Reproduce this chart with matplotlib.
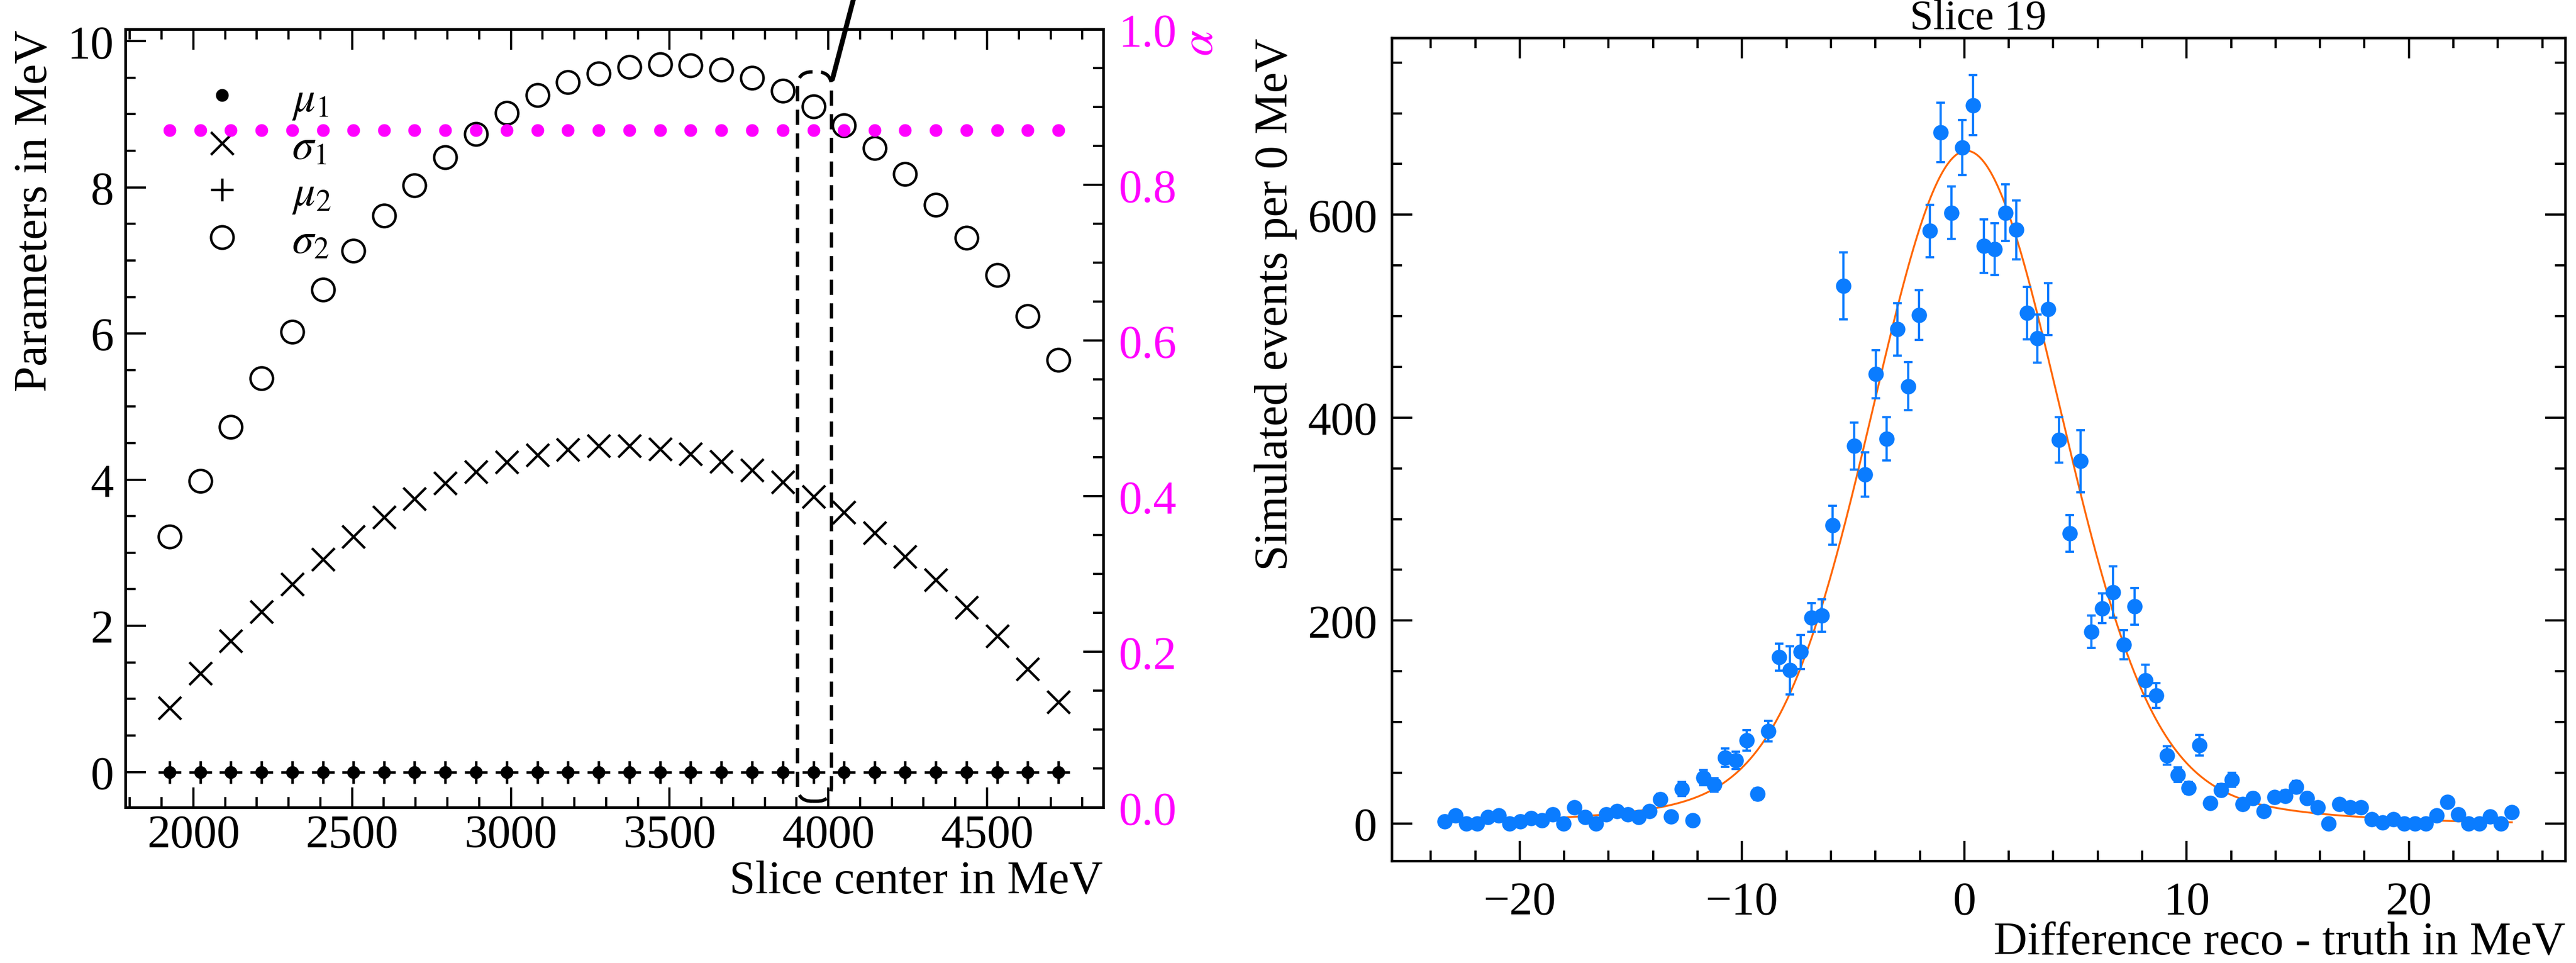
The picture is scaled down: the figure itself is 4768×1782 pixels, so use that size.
import numpy as np
import matplotlib.pyplot as plt
from matplotlib.patches import FancyBboxPatch, ConnectionPatch
from matplotlib.ticker import MultipleLocator

plt.rcParams['font.family'] = ['Liberation Serif', 'DejaVu Serif']
plt.rcParams['mathtext.fontset'] = 'stix'
plt.rcParams['font.size'] = 62
plt.rcParams['axes.linewidth'] = 3.3

# ---- left panel: fit parameters per slice ----
slice_center = [1925, 2022, 2118, 2215, 2311, 2408, 2504, 2601, 2697, 2794,
                2891, 2987, 3084, 3180, 3277, 3373, 3470, 3566, 3663, 3759,
                3856, 3953, 4049, 4146, 4242, 4339, 4435, 4532, 4628, 4725]
mu1 = [0.0] * 30
mu2 = [0.0] * 30
sigma1 = [0.88, 1.35, 1.79, 2.19, 2.57, 2.91, 3.22, 3.49, 3.74, 3.95,
          4.11, 4.24, 4.34, 4.41, 4.46, 4.46, 4.42, 4.35, 4.25, 4.13,
          3.97, 3.77, 3.55, 3.27, 2.95, 2.63, 2.25, 1.86, 1.41, 0.96]
sigma2 = [3.22, 3.98, 4.72, 5.39, 6.02, 6.60, 7.13, 7.61, 8.03, 8.41,
          8.73, 9.02, 9.26, 9.44, 9.56, 9.65, 9.68, 9.67, 9.61, 9.50,
          9.32, 9.11, 8.85, 8.54, 8.18, 7.76, 7.31, 6.80, 6.24, 5.64]
alpha = [0.87] * 30
selected = 21  # slice shown on the right

# ---- right panel: residual histogram of slice 19 ----
diff = np.linspace(-23.37, 24.63, 100)  # bin centers
counts = [2, 8, 0, 0, 6, 8, 0, 2, 5, 3,
          9, 0, 16, 6, 0, 9, 12, 9, 6, 12,
          24, 7, 34, 3, 45, 38, 65, 62, 82, 29,
          91, 164, 151, 169, 203, 205, 294, 530, 372, 344,
          443, 379, 487, 431, 501, 584, 681, 602, 666, 708,
          569, 566, 602, 585, 503, 478, 507, 378, 286, 357,
          189, 212, 228, 176, 214, 141, 126, 67, 48, 35,
          77, 20, 33, 43, 19, 25, 12, 26, 27, 36,
          25, 16, 0, 19, 16, 16, 4, 1, 4, 0,
          0, 0, 8, 21, 9, 0, 0, 7, 0, 11]
errors = [1.4, 2.8, 0, 0, 2.5, 2.8, 0, 1.4, 2.2, 1.7,
          3, 0, 4, 2.5, 0, 3, 3.5, 3, 2.5, 3.5,
          5, 2.6, 7, 1.7, 7.5, 6.5, 9, 8.5, 10, 5.5,
          10, 13.4, 23.8, 17, 14.2, 16, 19.3, 33, 23, 21.7,
          23.7, 21.4, 25.7, 23.5, 24.5, 26, 29.4, 25.8, 27.2, 29.7,
          26.5, 25.5, 28, 29, 26, 23.8, 25.5, 22.4, 18, 30.4,
          15.8, 14.6, 25.4, 14.3, 18.3, 15.2, 12.3, 9, 7, 6,
          10, 4.5, 6, 7, 4.5, 5, 3.5, 5, 5.2, 6,
          5, 4, 0, 4.4, 4, 4, 2, 1, 2, 0,
          0, 0, 2.8, 4.6, 3, 0, 0, 2.6, 0, 3.3]
fit_amp, fit_mu, fit_s1, fit_s2, fit_alpha = 663, 0.1, 4.15, 9.1, 0.87


def double_gauss(x):
    g1 = fit_alpha / fit_s1 * np.exp(-0.5 * ((x - fit_mu) / fit_s1) ** 2)
    g2 = (1 - fit_alpha) / fit_s2 * np.exp(-0.5 * ((x - fit_mu) / fit_s2) ** 2)
    return fit_amp * (g1 + g2) / (fit_alpha / fit_s1 + (1 - fit_alpha) / fit_s2)


W, H = 4768, 1783
fig = plt.figure(figsize=(W / 100, H / 100), dpi=100)
ax1 = fig.add_axes([231.5 / W, 1 - 1495 / H, 1810 / W, 1440 / H])
ax2 = fig.add_axes([2575.5 / W, 1 - 1594 / H, 2172.5 / W, 1523.5 / H])

# left
ax1.plot(slice_center, mu1, 'o', color='k', ms=16, label=r'$\mu_1$')
ax1.plot(slice_center, sigma1, 'x', color='k', ms=30, mew=3.3, label=r'$\sigma_1$')
ax1.plot(slice_center, mu2, '+', color='k', ms=30, mew=3.3, label=r'$\mu_2$')
ax1.plot(slice_center, sigma2, 'o', mfc='none', mec='k', ms=30, mew=3.3,
         label=r'$\sigma_2$')
ax1.set_xlabel('Slice center in MeV', loc='right', labelpad=4)
ax1.set_ylabel('Parameters in MeV', loc='top', labelpad=14)
ax1.xaxis.set_major_locator(MultipleLocator(500))
ax1.xaxis.set_minor_locator(MultipleLocator(100))
ax1.yaxis.set_major_locator(MultipleLocator(2))
ax1.yaxis.set_minor_locator(MultipleLocator(0.5))
ax1.legend(loc='upper left', bbox_to_anchor=(0.059, 0.957), frameon=False,
           fontsize=58, handlelength=1.0, handletextpad=1.1, labelspacing=0.16,
           borderaxespad=0)

ax1t = ax1.twinx()
ax1t.plot(slice_center, alpha, 'o', color='#ff00ff', ms=17, mew=0)
ax1t.set_ylim(0, 1)
ax1t.yaxis.set_major_locator(MultipleLocator(0.2))
ax1t.yaxis.set_minor_locator(MultipleLocator(0.05))
ax1t.set_ylabel(r'$\alpha$', loc='top', color='#ff00ff', labelpad=4)
ax1t.tick_params(axis='y', which='both', direction='in', labelcolor='#ff00ff',
                 width=3, pad=21)
ax1t.tick_params(axis='y', which='major', length=27)
ax1t.tick_params(axis='y', which='minor', length=14)

ax1.tick_params(which='both', direction='in', top=True, right=False, width=3)
ax1.tick_params(which='major', length=27)
ax1.tick_params(which='minor', length=14)
ax1.tick_params(axis='x', pad=9)
ax1.tick_params(axis='y', pad=15)

# highlight selected slice and link it to the right panel
xc = slice_center[selected]
box_lo, box_hi = -0.4, sigma2[selected] + 0.47
box = FancyBboxPatch((xc - 50, box_lo), 107, box_hi - box_lo,
                     boxstyle='round,pad=0,rounding_size=46',
                     mutation_aspect=0.0044, fill=False, ec='k', lw=4.5,
                     ls=(0, (4.5, 2.5)), transform=ax1.transData, zorder=5)
ax1.add_patch(box)
con = ConnectionPatch(xyA=(xc + 60, box_hi - 0.1), coordsA=ax1.transData,
                      xyB=(0.3362, 1.05), coordsB='figure fraction',
                      color='k', lw=6.5)
fig.add_artist(con)

# right
xfit = np.linspace(diff[0], diff[-1], 600)
ax2.plot(xfit, double_gauss(xfit), color='#ff6600', lw=2.5, zorder=3)
ax2.errorbar(diff, counts, yerr=errors, fmt='o', color='#0a7cff', ms=19.5,
             elinewidth=3, capsize=5.5, capthick=3, zorder=4)
ax2.set_title('Slice 19', fontsize=56, pad=12)
ax2.set_xlabel('Difference reco - truth in MeV', loc='right', labelpad=-4)
ax2.set_ylabel('Simulated events per 0 MeV', loc='top', labelpad=14)
ax2.xaxis.set_major_locator(MultipleLocator(10))
ax2.xaxis.set_minor_locator(MultipleLocator(2))
ax2.yaxis.set_major_locator(MultipleLocator(200))
ax2.yaxis.set_minor_locator(MultipleLocator(50))
ax2.tick_params(which='both', direction='in', top=True, right=True, width=3)
ax2.tick_params(which='major', length=27)
ax2.tick_params(which='minor', length=14)
ax2.tick_params(axis='x', pad=27)
ax2.tick_params(axis='y', pad=19)

fig.savefig('out.png', dpi=100)
